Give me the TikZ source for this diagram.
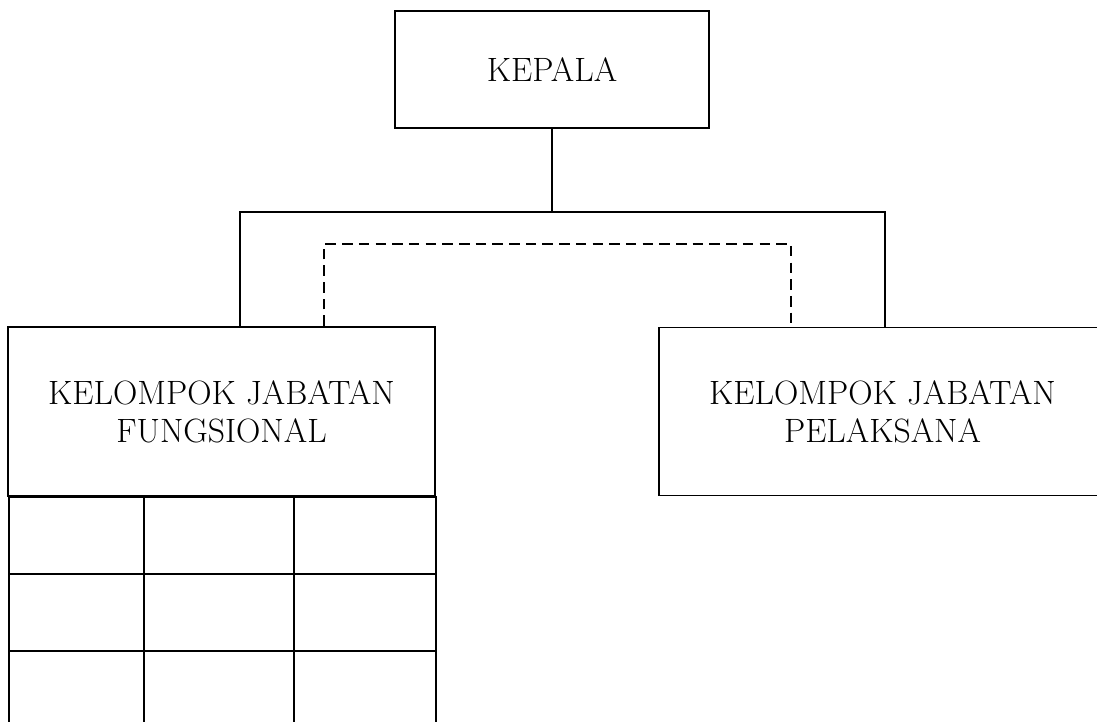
\documentclass[tikz,border=0pt]{standalone}
\begin{document}
\begin{tikzpicture}[line width=1.1pt,
    box/.style={draw,rectangle,align=center,inner sep=0pt,font=\fontsize{19.2}{21.8}\selectfont},
    cell/.style={draw,rectangle,inner sep=0pt,minimum height=1.54cm},
    coordline/.style={dash pattern=on 6pt off 3.5pt}]
    \useasboundingbox (0,0) rectangle (21.94,-14.44);
    \node[box,minimum width=6.28cm,minimum height=2.34cm] (kepala) at (11.04,-1.39) {KEPALA};
    \node[box,minimum width=8.54cm,minimum height=3.38cm] (fungsional) at (4.43,-8.23) {KELOMPOK JABATAN\\FUNGSIONAL};
    \node[box,minimum width=8.94cm,minimum height=3.36cm] (pelaksana) at (17.65,-8.23) {KELOMPOK JABATAN\\PELAKSANA};
    \foreach \c/\x/\w in {a/0.16/2.70,b/2.86/3.00,c/5.86/2.84}
        \foreach \r/\y in {1/-9.92,2/-11.46,3/-13.00}
            \node[cell,minimum width=\w cm,anchor=north west] (cell\c\r) at (\x,\y) {};
    \coordinate (split) at (kepala.south |- 0,-4.24);
    \coordinate (leftdrop) at (4.80,-4.24);
    \coordinate (rightdrop) at (17.70,-4.24);
    \coordinate (dashleft) at (6.48,-4.88);
    \coordinate (dashright) at (15.82,-4.88);
    \draw (kepala.south) -- (split);
    \draw (fungsional.north -| leftdrop) -- (leftdrop) -- (rightdrop) -- (pelaksana.north -| rightdrop);
    \draw[coordline] (fungsional.north -| dashleft) -- (dashleft) -- (dashright) -- (pelaksana.north -| dashright);
\end{tikzpicture}
\end{document}
